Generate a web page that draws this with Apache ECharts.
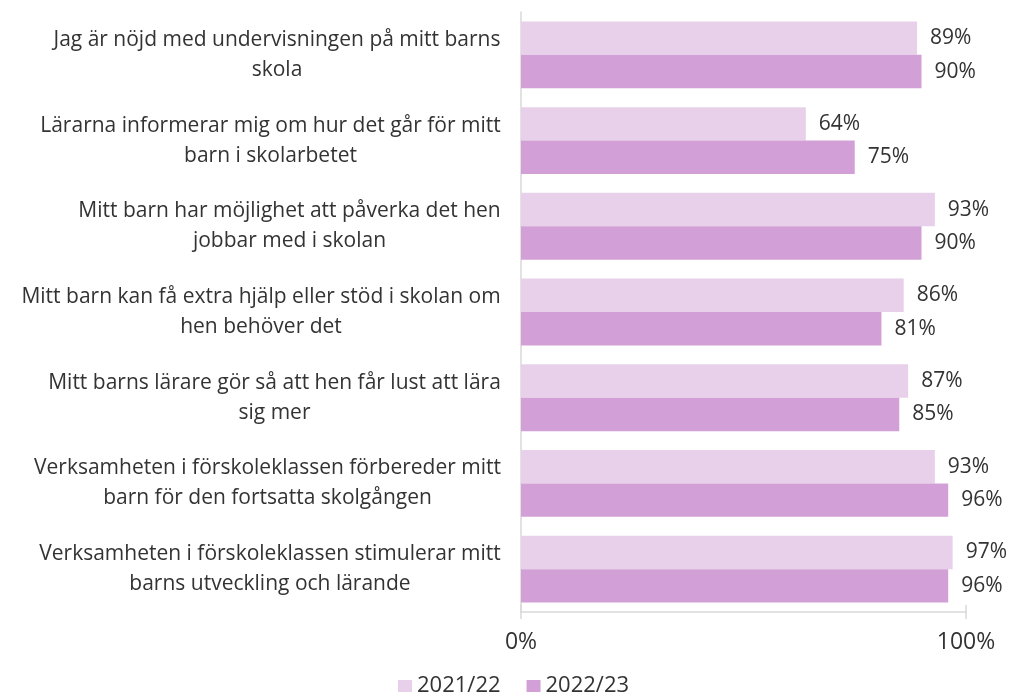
<!DOCTYPE html>
<html>
<head>
<meta charset="UTF-8">
<title></title>
<script src="https://cdn.jsdelivr.net/npm/echarts@6/dist/echarts.min.js"></script>
<style>
  html, body { margin: 0; padding: 0; background: #fff; }
  #chart1 { width: 1015px; height: 697px; }
</style>
</head>
<body>
<div id="chart1"></div>
<script type="text/javascript">
    // kategorier, uppifrån och ned
    var categories = [
        'Jag är nöjd med undervisningen på mitt barns\nskola',
        'Lärarna informerar mig om hur det går för mitt\nbarn i skolarbetet',
        'Mitt barn har möjlighet att påverka det hen\njobbar med i skolan',
        'Mitt barn kan få extra hjälp eller stöd i skolan om\nhen behöver det',
        'Mitt barns lärare gör så att hen får lust att lära\nsig mer',
        'Verksamheten i förskoleklassen förbereder mitt\nbarn för den fortsatta skolgången',
        'Verksamheten i förskoleklassen stimulerar mitt\nbarns utveckling och lärande'
    ];
    var seriesNames = ['2021/22', '2022/23'];
    var values2122 = [89, 64, 93, 86, 87, 93, 97];
    var values2223 = [90, 75, 90, 81, 85, 96, 96];
    var xTicks = [0, 100];

    var font = 'Open Sans';
    var labelSize = 21;
    var textColor = '#333333';
    var axisGrey = '#d9d9d9';

    // mät textbredd så att raderna kan centreras mot varandra
    var ctx = document.createElement('canvas').getContext('2d');
    ctx.font = labelSize + 'px "' + font + '"';
    var rich = {};
    categories.forEach(function (c, i) {
        var w = Math.max.apply(null, c.split('\n').map(function (s) { return ctx.measureText(s).width; }));
        rich['c' + i] = {
            width: Math.ceil(w),
            align: 'center',
            fontSize: labelSize,
            lineHeight: 30,
            color: textColor,
            fontFamily: font
        };
    });

    var valueLabel = {
        show: true,
        position: 'right',
        distance: 13,
        formatter: '{c}%',
        fontSize: 21,
        color: textColor
    };

    var chart1 = echarts.init(document.getElementById('chart1'));

    var option = {
        animation: false,
        textStyle: { fontFamily: font },
        grid: { left: 521, right: 49, top: 12, bottom: 85 },
        legend: {
            data: seriesNames,
            left: 393,
            top: 670,
            itemWidth: 14,
            itemHeight: 12,
            itemGap: 26,
            icon: 'rect',
            textStyle: { fontSize: 22, color: textColor, fontFamily: font }
        },
        xAxis: [
            {
                type: 'value',
                min: xTicks[0],
                max: xTicks[1],
                interval: 100,
                axisLine: { show: true, lineStyle: { color: axisGrey, width: 1.5 } },
                axisTick: { show: true, length: 7, lineStyle: { color: axisGrey, width: 1.5 } },
                splitLine: { show: false },
                axisLabel: {
                    formatter: '{value}%',
                    fontSize: 23,
                    color: textColor,
                    margin: 19
                }
            },
            {
                // bara för att tickmarkeringarna ska gå igenom axellinjen
                type: 'value',
                position: 'bottom',
                min: xTicks[0],
                max: xTicks[1],
                interval: 100,
                axisLine: { show: false },
                axisTick: { show: true, inside: true, length: 7, lineStyle: { color: axisGrey, width: 1.5 } },
                splitLine: { show: false },
                axisLabel: { show: false }
            }
        ],
        yAxis: {
            type: 'category',
            data: categories,
            inverse: true,
            axisLine: { show: true, lineStyle: { color: axisGrey, width: 1.5 } },
            axisTick: { show: false },
            axisLabel: {
                align: 'right',
                margin: 20,
                formatter: function (v, idx) {
                    return v.split('\n').map(function (s) { return '{c' + idx + '|' + s + '}'; }).join('\n');
                },
                rich: rich
            }
        },
        series: [
            {
                name: seriesNames[0],
                type: 'bar',
                data: values2122,
                barGap: '0%',
                barCategoryGap: '22%',
                itemStyle: { color: '#e8d0ea' },
                label: valueLabel
            },
            {
                name: seriesNames[1],
                type: 'bar',
                data: values2223,
                barGap: '0%',
                barCategoryGap: '22%',
                itemStyle: { color: '#d2a0d6' },
                label: valueLabel
            }
        ]
    };
    chart1.setOption(option);
</script>
</body>
</html>
